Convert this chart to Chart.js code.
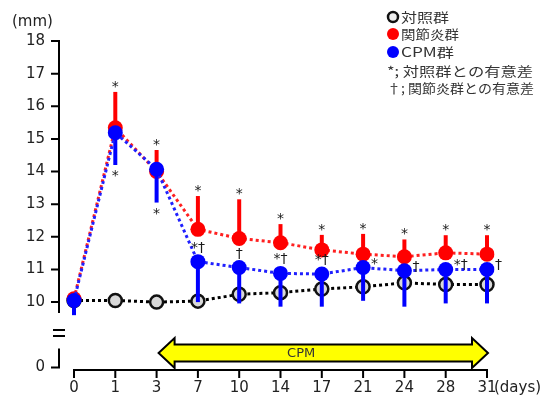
<!DOCTYPE html>
<html><head><meta charset="utf-8">
<script src="https://cdn.jsdelivr.net/npm/chart.js@4/dist/chart.umd.min.js"></script>
<style>html,body{margin:0;padding:0;background:#fff}#wrap{width:548px;height:400px}</style>
</head><body><div id="wrap"><canvas id="c" width="548" height="400"></canvas></div>
<script>
// ---- data ----
const days = ['0','1','3','7','10','14','17','21','24','28','31'];
const controlMean   = [10.05,10.05,10.00,10.03,10.24,10.29,10.40,10.47,10.59,10.54,10.54];
const arthritisMean = [10.10,15.34,14.00,12.23,11.95,11.82,11.60,11.47,11.39,11.51,11.47];
const arthritisSD   = [0.00,1.10,0.66,1.02,1.20,0.57,0.46,0.62,0.53,0.54,0.58];
const cpmMean       = [10.05,15.19,14.07,11.24,11.06,10.88,10.86,11.06,10.96,11.00,11.00];
const cpmSD         = [0.45,0.99,1.02,1.24,1.10,1.02,1.00,1.02,1.10,1.04,1.04];
const arthritisMarks = ['','*','*','*','*','*','*','*','*','*','*'];
const cpmMarksBelow  = ['','*','*','','','','','','','',''];
const cpmMarks       = ['','','','*†','†','*†','*†','*','†','*†','†'];
const yTickValues = [0,10,11,12,13,14,15,16,17,18];
const yBreakVirtual = 8;           // value 0 is placed here on the broken axis
const seriesNames = ['対照群','関節炎群','CPM群'];
const noteLabels = ['*; 対照群との有意差','†; 関節炎群との有意差'];
const yUnit = '(mm)', xUnit = '(days)', cpmLabel = 'CPM';
const cpmStart = '3', cpmEnd = '31';

const NUM_FONT = 'DejaVu Sans';
const JP_FONT = '"Noto Sans CJK JP"';

const decor = {
  id:'decor',
  beforeDatasetDraw(chart, args){
    const ctx = chart.ctx, ys = chart.scales.y;
    const meta = args.meta;
    let mean, sd, dir, col;
    if (args.index === 1){ mean = arthritisMean; sd = arthritisSD; dir = 1; col = '#ff0000'; }
    else if (args.index === 2){ mean = cpmMean; sd = cpmSD; dir = -1; col = '#0000ff'; }
    else return;
    ctx.save();
    ctx.strokeStyle = col; ctx.lineWidth = 4; ctx.lineCap = 'butt';
    meta.data.forEach((p,i)=>{
      if (!sd[i]) return;
      ctx.beginPath();
      ctx.moveTo(p.x, ys.getPixelForValue(mean[i]));
      ctx.lineTo(p.x, ys.getPixelForValue(mean[i] + dir*sd[i]));
      ctx.stroke();
    });
    ctx.restore();
  },
  afterDatasetsDraw(chart){
    const ctx = chart.ctx, xs = chart.scales.x, ys = chart.scales.y;
    ctx.save();
    ctx.fillStyle = '#1a1a1a';
    ctx.font = '14px ' + NUM_FONT;
    ctx.textBaseline = 'alphabetic';
    days.forEach((d,i)=>{
      const x = xs.getPixelForValue(i);
      if (arthritisMarks[i]){
        const yt = ys.getPixelForValue(arthritisMean[i] + arthritisSD[i]);
        ctx.textAlign = 'center';
        ctx.fillText(arthritisMarks[i], x, yt - 11 + 10);
      }
      if (cpmMarksBelow[i]){
        const yb = ys.getPixelForValue(cpmMean[i] - cpmSD[i]);
        ctx.textAlign = 'center';
        ctx.fillText(cpmMarksBelow[i], x, yb + 5 + 10);
      }
      if (cpmMarks[i]){
        const yc = ys.getPixelForValue(cpmMean[i]);
        if (i < 7){
          ctx.textAlign = 'center';
          ctx.fillText(cpmMarks[i], x, yc - 16 + 6);
        } else {
          ctx.textAlign = 'left';
          ctx.fillText(cpmMarks[i], x + 8, yc - 6 + 6);
        }
      }
    });
    ctx.restore();
  },
  afterDraw(chart){
    const ctx = chart.ctx, xs = chart.scales.x, ys = chart.scales.y, ca = chart.chartArea;
    ctx.save();
    ctx.strokeStyle = '#000'; ctx.lineWidth = 2; ctx.lineCap = 'butt';
    const ax = ca.left - 15;
    // y axis (broken)
    ctx.beginPath();
    ctx.moveTo(ax, ys.getPixelForValue(18) - 1); ctx.lineTo(ax, ys.getPixelForValue(10) + 11);
    ctx.moveTo(ax, ys.getPixelForValue(yBreakVirtual) - 19); ctx.lineTo(ax, ys.getPixelForValue(yBreakVirtual) + 1);
    yTickValues.forEach(v=>{
      const y = ys.getPixelForValue(v === 0 ? yBreakVirtual : v);
      ctx.moveTo(ax - 8, y); ctx.lineTo(ax + 1, y);
    });
    // break sign
    const yb = ys.getPixelForValue(10) + 28;
    ctx.moveTo(ax - 6, yb); ctx.lineTo(ax + 6, yb);
    ctx.moveTo(ax - 6, yb + 6); ctx.lineTo(ax + 6, yb + 6);
    // x axis
    const xb = ca.bottom;
    ctx.moveTo(xs.getPixelForValue(0) - 1, xb); ctx.lineTo(xs.getPixelForValue(days.length-1) + 1, xb);
    days.forEach((d,i)=>{ const x = xs.getPixelForValue(i); ctx.moveTo(x, xb); ctx.lineTo(x, xb + 8); });
    ctx.stroke();

    // tick labels
    ctx.fillStyle = '#222';
    ctx.font = '15px ' + NUM_FONT; ctx.textBaseline = 'middle';
    ctx.textAlign = 'center';
    days.forEach((d,i)=> ctx.fillText(d, xs.getPixelForValue(i), xb + 18));
    ctx.textAlign = 'right';
    yTickValues.forEach(v=> ctx.fillText(String(v), ax - 14, ys.getPixelForValue(v === 0 ? yBreakVirtual : v)));

    // CPM arrow
    const x1 = xs.getPixelForValue(days.indexOf(cpmStart)) + 2;
    const x2 = xs.getPixelForValue(days.indexOf(cpmEnd)) + 1;
    const cy = ca.bottom - 17, hl = 16, hh = 15, bh = 8.5;
    ctx.beginPath();
    ctx.moveTo(x1, cy);
    ctx.lineTo(x1 + hl, cy - hh); ctx.lineTo(x1 + hl, cy - bh);
    ctx.lineTo(x2 - hl, cy - bh); ctx.lineTo(x2 - hl, cy - hh);
    ctx.lineTo(x2, cy);
    ctx.lineTo(x2 - hl, cy + hh); ctx.lineTo(x2 - hl, cy + bh);
    ctx.lineTo(x1 + hl, cy + bh); ctx.lineTo(x1 + hl, cy + hh);
    ctx.closePath();
    ctx.fillStyle = '#ffff00'; ctx.fill();
    ctx.lineWidth = 2; ctx.lineJoin = 'miter'; ctx.stroke();
    ctx.fillStyle = '#333';
    ctx.font = '13px ' + NUM_FONT; ctx.textAlign = 'center'; ctx.textBaseline = 'middle';
    ctx.fillText(cpmLabel, (xs.getPixelForValue(5)+xs.getPixelForValue(6))/2, cy + 1);

    // unit labels
    ctx.fillStyle = '#222';
    ctx.font = '15px ' + NUM_FONT; ctx.textAlign = 'left'; ctx.textBaseline = 'middle';
    ctx.fillText(yUnit, 12, 22);
    ctx.fillText(xUnit, xs.getPixelForValue(days.length-1) + 7, xb + 18);

    // legend
    const lx = 393;
    const rows = [17, 34, 52];
    ctx.beginPath(); ctx.arc(lx, rows[0], 5, 0, Math.PI*2);
    ctx.fillStyle = '#eeeeee'; ctx.fill(); ctx.lineWidth = 2.5; ctx.strokeStyle = '#111'; ctx.stroke();
    ctx.beginPath(); ctx.arc(lx, rows[1], 6, 0, Math.PI*2); ctx.fillStyle = '#ff0000'; ctx.fill();
    ctx.beginPath(); ctx.arc(lx, rows[2], 6, 0, Math.PI*2); ctx.fillStyle = '#0000ff'; ctx.fill();
    ctx.fillStyle = '#333'; ctx.textBaseline = 'middle'; ctx.textAlign = 'left';
    function fitted(txt, x, y, w){
      ctx.save();
      ctx.font = '13px ' + JP_FONT;
      const m = ctx.measureText(txt).width;
      ctx.translate(x, y); ctx.scale(w / m, 1);
      ctx.fillText(txt, 0, 0); ctx.restore();
    }
    const rowWidths = [48, 58, 53];
    seriesNames.forEach((s,i)=> fitted(s, 401, rows[i], rowWidths[i]));
    fitted(noteLabels[0], 387, 71, 146);
    fitted(noteLabels[1], 387, 88, 147);
    ctx.restore();
  }
};

const common = {borderWidth:3, borderDash:[3,3], tension:0, fill:false};
new Chart(document.getElementById('c'), {
  type:'line',
  data:{labels:days, datasets:[
    Object.assign({label:seriesNames[0], data:controlMean, borderColor:'#000',
      pointRadius:6.5, pointBackgroundColor:'#d9d9d9', pointBorderColor:'#111', pointBorderWidth:2.5, order:3}, common),
    Object.assign({label:seriesNames[1], data:arthritisMean, borderColor:'#ff2020',
      pointRadius:7.5, pointBackgroundColor:'#ff0000', pointBorderColor:'#ff0000', pointBorderWidth:0, order:2}, common),
    Object.assign({label:seriesNames[2], data:cpmMean, borderColor:'#2020ff',
      pointRadius:7.5, pointBackgroundColor:'#0000ff', pointBorderColor:'#0000ff', pointBorderWidth:0, order:1}, common)
  ]},
  options:{
    responsive:false, animation:false,
    layout:{autoPadding:false, padding:{left:0, right:61, top:41, bottom:0}},
    plugins:{legend:{display:false}, tooltip:{enabled:false}},
    scales:{
      x:{type:'category', offset:false,
         grid:{display:false, drawTicks:false}, border:{display:false},
         ticks:{display:false, padding:0},
         afterFit(s){ s.height = 30; }},
      y:{type:'linear', min:7.92, max:18,
         grid:{display:false, drawTicks:false}, border:{display:false},
         afterBuildTicks(s){ s.ticks = yTickValues.map(v=>({value: v===0 ? yBreakVirtual : v})); },
         ticks:{display:false, padding:0},
         afterFit(s){ s.width = 74; }}
    }
  },
  plugins:[decor]
});
</script></body></html>
